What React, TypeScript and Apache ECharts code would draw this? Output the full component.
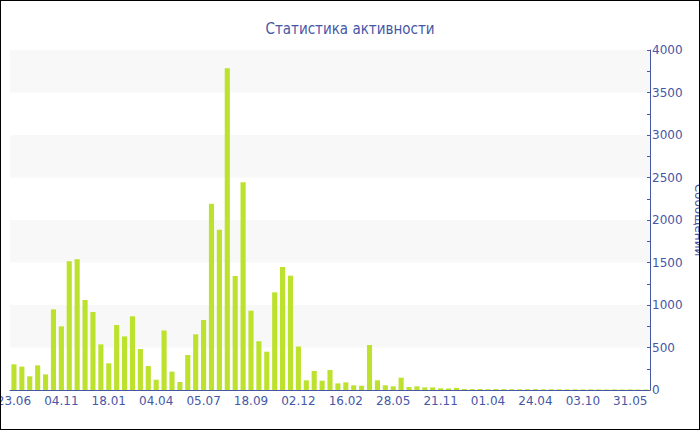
import React, { useEffect, useRef } from "react";
import * as echarts from "echarts";

const tickLabels = ["23.06", "04.11", "18.01", "04.04", "05.07", "18.09", "02.12", "16.02", "28.05", "21.11", "01.04", "24.04", "03.10", "31.05"];

const messages = [
  302, 275, 161, 290, 184, 949, 749, 1514, 1537, 1059,
  918, 537, 314, 765, 631, 867, 482, 282, 121, 700,
  216, 94, 412, 655, 824, 2192, 1886, 3784, 1341, 2443,
  933, 573, 451, 1149, 1447, 1345, 512, 114, 224, 110,
  235, 78, 90, 55, 51, 529, 114, 55, 43, 145,
  35, 43, 31, 31, 20, 18, 25, 12, 10, 12,
  9, 11, 10, 9, 8, 9, 10, 8, 9, 8,
  7, 8, 7, 8, 7, 6, 7, 6, 7, 6,
  6,
];

const categories = messages.map((_, i) =>
  i % 6 === 0 ? tickLabels[i / 6] : `${tickLabels[Math.floor(i / 6)]}+${i % 6}`
);

const BLUE = "#4657a6";
const FONT = "'DejaVu Sans', Verdana, sans-serif";

export default function App() {
  const ref = useRef<HTMLDivElement>(null);
  useEffect(() => {
    if (!ref.current) return;
    const chart = echarts.init(ref.current, null, { renderer: "svg" });
    chart.setOption({
      animation: false,
      backgroundColor: "#ffffff",
      title: {
        text: "Статистика активности",
        left: "center",
        top: 15,
        textStyle: { color: BLUE, fontSize: 15, fontWeight: "normal", fontFamily: "'DejaVu Sans Condensed', 'DejaVu Sans', sans-serif" },
      },
      grid: { left: 9, right: 49, top: 49, bottom: 39, containLabel: false, outerBoundsMode: "none" },
      xAxis: {
        type: "category",
        data: categories,
        boundaryGap: true,
        axisLine: { lineStyle: { color: BLUE, width: 1 } },
        axisTick: { interval: 5, alignWithLabel: true, length: 3, lineStyle: { color: BLUE } },
        axisLabel: { interval: 5, color: BLUE, fontSize: 12, fontFamily: FONT, margin: 5 },
        splitLine: { show: false },
      },
      yAxis: {
        type: "value",
        position: "right",
        min: 0,
        max: 4000,
        interval: 500,
        name: "Сообщений",
        nameLocation: "middle",
        nameRotate: -90,
        nameGap: 43,
        nameTextStyle: { color: BLUE, fontSize: 12, fontFamily: FONT },
        axisLine: { show: true, lineStyle: { color: BLUE, width: 1 } },
        axisTick: { show: true, inside: true, length: 3, lineStyle: { color: BLUE } },
        minorTick: { show: true, splitNumber: 2, length: 3, lineStyle: { color: BLUE } },
        axisLabel: { color: BLUE, fontSize: 12, fontFamily: FONT, margin: 2, formatter: (v: number) => String(v) },
        splitLine: { show: false },
        splitArea: { show: true, areaStyle: { color: ["#ffffff", "#f8f8f8"] } },
      },
      series: [
        {
          type: "bar",
          data: messages,
          barCategoryGap: "35%",
          itemStyle: { color: "#bde22e" },
        },
      ],
    });
    return () => chart.dispose();
  }, []);
  return (
    <div
      style={{
        position: "absolute",
        left: 0,
        top: 0,
        width: 700,
        height: 430,
        boxSizing: "border-box",
        border: "1px solid #000",
        background: "#fff",
      }}
    >
      <div ref={ref} style={{ width: 698, height: 428 }} />
    </div>
  );
}
